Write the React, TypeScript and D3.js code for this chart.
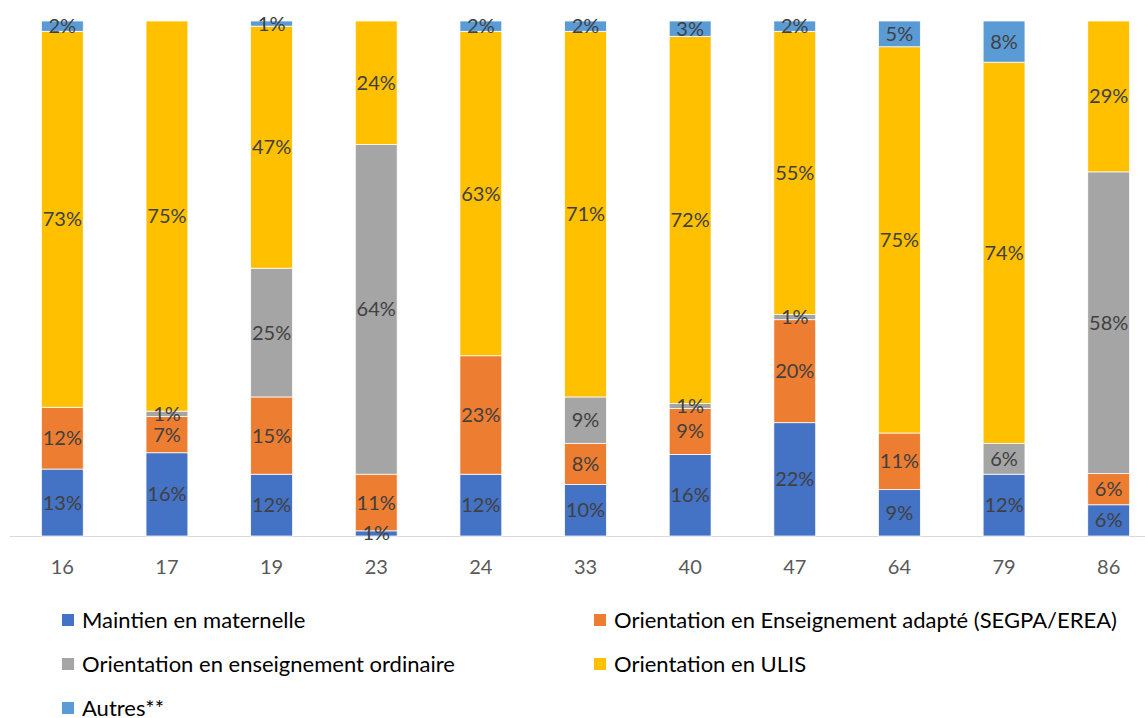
import React from "react";
import * as d3 from "d3";

const categories = ["16", "17", "19", "23", "24", "33", "40", "47", "64", "79", "86"];
const seriesNames = [
  "Maintien en maternelle",
  "Orientation en Enseignement adapté (SEGPA/EREA)",
  "Orientation en enseignement ordinaire",
  "Orientation en ULIS",
  "Autres**",
];
const maintien = [13, 16, 12, 1, 12, 10, 16, 22, 9, 12, 6];
const adapte = [12, 7, 15, 11, 23, 8, 9, 20, 11, 0, 6];
const ordinaire = [0, 1, 25, 64, 0, 9, 1, 1, 0, 6, 58];
const ulis = [73, 75, 47, 24, 63, 71, 72, 55, 75, 74, 29];
const autres = [2, 0, 1, 0, 2, 2, 3, 2, 5, 8, 0];
const colors = ["#4472C4", "#ED7D31", "#A5A5A5", "#FFC000", "#5B9BD5"];

const W = 1145;
const H = 718;

export default function App() {
  const keys = ["m", "a", "o", "u", "x"];
  const rows = categories.map((c, i) => ({
    cat: c,
    m: maintien[i],
    a: adapte[i],
    o: ordinaire[i],
    u: ulis[i],
    x: autres[i],
  }));
  const stack = d3.stack<any>().keys(keys).offset(d3.stackOffsetExpand);
  const series = stack(rows);

  const x = d3.scaleBand().domain(categories).range([10, 1161]).paddingInner(0.6).paddingOuter(0.3);
  const y = d3.scaleLinear().domain([0, 1]).range([536, 21]);
  const font = "Lato, 'Open Sans', sans-serif";

  const legend = [
    { i: 0, x: 62, y: 620 },
    { i: 1, x: 594, y: 620 },
    { i: 2, x: 62, y: 664 },
    { i: 3, x: 594, y: 664 },
    { i: 4, x: 62, y: 708 },
  ];

  return (
    <svg width={W} height={H} style={{ position: "absolute", left: 0, top: 0, background: "#fff" }}>
      <line x1={10} x2={1145} y1={536.5} y2={536.5} stroke="#D9D9D9" strokeWidth={1} />
      {series.map((s, si) => (
        <g key={si}>
          {s.map((d, di) => {
            const val = rows[di][keys[si] as "m"];
            if (!val) return null;
            const y0 = y(d[0]);
            const y1 = y(d[1]);
            return (
              <rect
                key={di}
                x={x(categories[di])}
                y={y1}
                width={x.bandwidth()}
                height={y0 - y1}
                fill={colors[si]}
                stroke="#fff"
                strokeWidth={0.75}
              />
            );
          })}
        </g>
      ))}
      {series.map((s, si) => (
        <g key={"l" + si}>
          {s.map((d, di) => {
            const val = rows[di][keys[si] as "m"];
            if (!val) return null;
            const cy = (y(d[0]) + y(d[1])) / 2;
            return (
              <text
                key={di}
                x={(x(categories[di]) as number) + x.bandwidth() / 2}
                y={cy}
                dy="0.35em"
                textAnchor="middle"
                fontFamily={font}
                fontSize={20}
                fill="#404040"
              >
                {val}%
              </text>
            );
          })}
        </g>
      ))}
      {categories.map((c) => (
        <text
          key={c}
          x={(x(c) as number) + x.bandwidth() / 2}
          y={567}
          dy="0.35em"
          textAnchor="middle"
          fontFamily={font}
          fontSize={20}
          fill="#595959"
        >
          {c}
        </text>
      ))}
      {legend.map((l) => (
        <g key={l.i}>
          <rect x={l.x} y={l.y - 6} width={12} height={12} fill={colors[l.i]} />
          <text x={l.x + 20} y={l.y} dy="0.35em" fontFamily={font} fontSize={22} fill="#000">
            {seriesNames[l.i]}
          </text>
        </g>
      ))}
    </svg>
  );
}
